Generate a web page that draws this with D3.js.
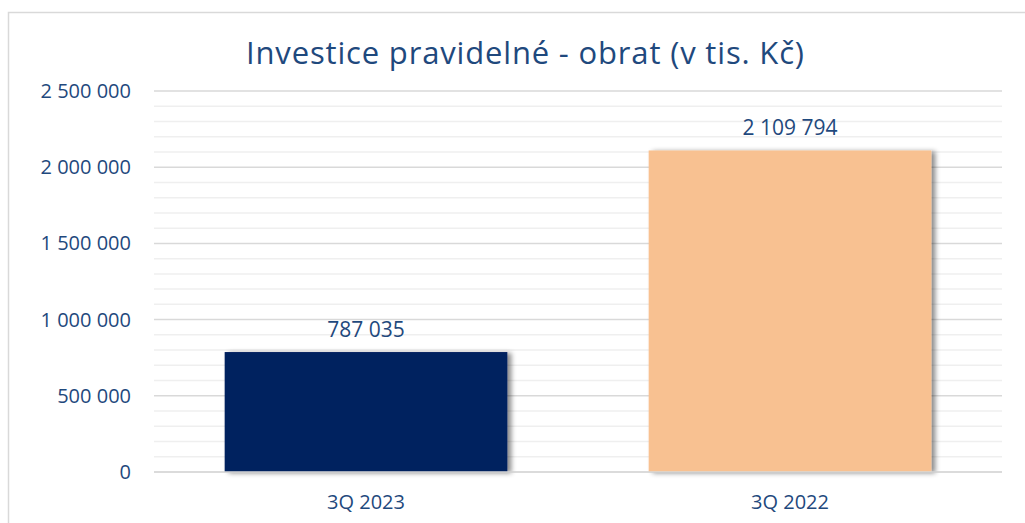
<!DOCTYPE html>
<html><head><meta charset="utf-8">
<script src="https://cdn.jsdelivr.net/npm/d3@7"></script>
<style>body{margin:0;background:#fff}svg{display:block}text{font-family:"Open Sans",sans-serif}</style>
</head><body><svg id="c" width="1025" height="523"></svg>
<script>
const title = "Investice pravidelné - obrat (v tis. Kč)";
const categories = ["3Q 2023", "3Q 2022"];
const values = [787035, 2109794];
const barColors = ["#00205E", "#F8C191"];
const yTicks = [0, 500000, 1000000, 1500000, 2000000, 2500000];
const yMinorTicks = [100000,200000,300000,400000,600000,700000,800000,900000,1100000,1200000,1300000,1400000,1600000,1700000,1800000,1900000,2100000,2200000,2300000,2400000];

const txt = "#1F497D";
const svg = d3.select("#c");
const fmt = v => d3.format(",")(v).replace(/,/g, " ");

svg.append("rect").attr("x", 8.5).attr("y", 12.5).attr("width", 1040).attr("height", 540)
  .attr("fill", "#fff").attr("stroke", "#d9d9d9").attr("stroke-width", 1.5);

const defs = svg.append("defs");
const f = defs.append("filter").attr("id", "sh").attr("x", "-10%").attr("y", "-10%").attr("width", "130%").attr("height", "120%");
f.append("feDropShadow").attr("dx", 4).attr("dy", 1).attr("stdDeviation", 2.5).attr("flood-color", "#000").attr("flood-opacity", 0.45);

const x0 = 154, x1 = 1002;
const y = d3.scaleLinear().domain([0, 2500000]).range([472, 91]);
const x = d3.scaleBand().domain(categories).range([x0, x1]).paddingInner(1/3).paddingOuter(1/6);

svg.append("g").selectAll("line").data(yMinorTicks).join("line")
  .attr("x1", x0).attr("x2", x1).attr("y1", d => y(d)).attr("y2", d => y(d))
  .attr("stroke", "#efefef").attr("stroke-width", 1.5);
svg.append("g").selectAll("line").data(yTicks).join("line")
  .attr("x1", x0).attr("x2", x1).attr("y1", d => y(d)).attr("y2", d => y(d))
  .attr("stroke", "#d9d9d9").attr("stroke-width", 1.5);

const yAxis = d3.axisLeft(y).tickValues(yTicks).tickFormat(fmt).tickSize(0).tickPadding(0);
const ya = svg.append("g").attr("transform", "translate(131,0)").call(yAxis);
ya.select(".domain").remove();
ya.selectAll("text").attr("fill", txt).attr("font-size", 20).attr("font-family", "Open Sans").attr("dy", "0.32em");

svg.append("g").selectAll("rect").data(values).join("rect")
  .attr("x", (d, i) => x(categories[i])).attr("width", x.bandwidth())
  .attr("y", d => y(d)).attr("height", d => y(0) - y(d))
  .attr("fill", (d, i) => barColors[i]).attr("filter", "url(#sh)");

svg.append("line").attr("x1", x0).attr("x2", x1).attr("y1", y(0)).attr("y2", y(0))
  .attr("stroke", "#d9d9d9").attr("stroke-width", 1.5);

svg.append("g").selectAll("text").data(values).join("text")
  .attr("x", (d, i) => x(categories[i]) + x.bandwidth() / 2).attr("y", d => y(d) - 15)
  .attr("text-anchor", "middle").attr("fill", txt).attr("font-size", 21).text(fmt);

const xAxis = d3.axisBottom(x).tickSize(0).tickPadding(0);
const xa = svg.append("g").attr("transform", "translate(0,509)").call(xAxis);
xa.select(".domain").remove();
xa.selectAll("text").attr("fill", txt).attr("font-size", 20).attr("font-family", "Open Sans").attr("dy", 0);

svg.append("text").attr("x", 525).attr("y", 64).attr("text-anchor", "middle")
  .attr("fill", txt).attr("font-size", 31).attr("textLength", 558).attr("lengthAdjust", "spacing").text(title);
</script></body></html>
